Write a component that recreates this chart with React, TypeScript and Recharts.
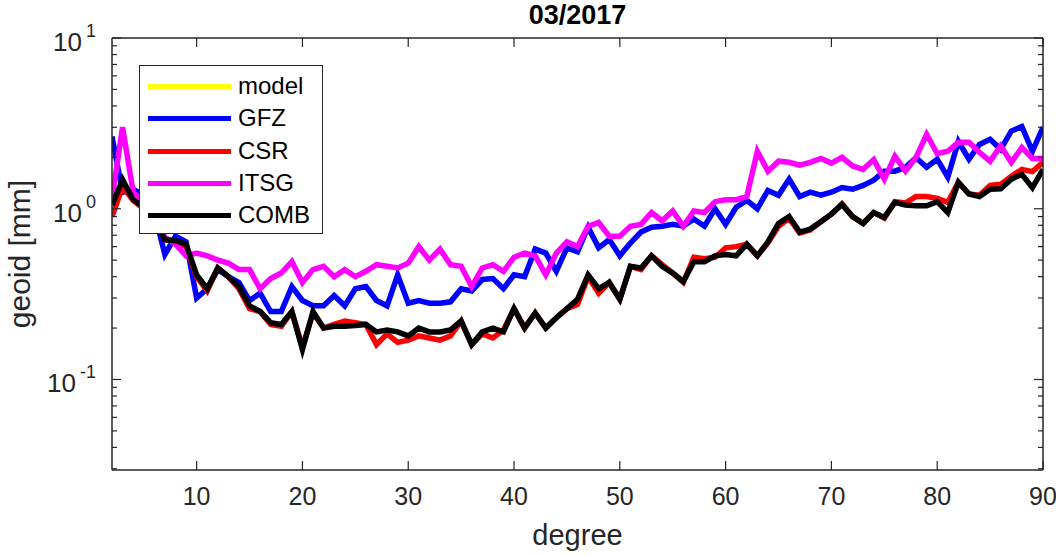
import React from 'react';
import { LineChart, Line, XAxis, YAxis, Legend } from 'recharts';

const degrees = [2, 3, 4, 5, 6, 7, 8, 9, 10, 11, 12, 13, 14, 15, 16, 17, 18, 19, 20, 21, 22, 23, 24, 25, 26, 27, 28, 29, 30,
  31, 32, 33, 34, 35, 36, 37, 38, 39, 40, 41, 42, 43, 44, 45, 46, 47, 48, 49, 50, 51, 52, 53, 54, 55, 56, 57, 58, 59, 60,
  61, 62, 63, 64, 65, 66, 67, 68, 69, 70, 71, 72, 73, 74, 75, 76, 77, 78, 79, 80, 81, 82, 83, 84, 85, 86, 87, 88, 89, 90];

const gfz = [2.65, 1.25, 1.3, 1.2, 0.95, 0.54, 0.69, 0.64, 0.30, 0.34, 0.44, 0.40, 0.37, 0.29, 0.32, 0.25, 0.25, 0.35, 0.29,
  0.27, 0.27, 0.31, 0.27, 0.34, 0.35, 0.29, 0.27, 0.41, 0.28, 0.29, 0.28, 0.28, 0.285, 0.34, 0.33, 0.385, 0.39, 0.34, 0.41,
  0.40, 0.58, 0.55, 0.43, 0.59, 0.56, 0.78, 0.59, 0.66, 0.53, 0.63, 0.73, 0.78, 0.79, 0.81, 0.79, 0.87, 0.79, 1.0, 0.81,
  1.02, 1.12, 1.0, 1.28, 1.2, 1.49, 1.18, 1.25, 1.2, 1.25, 1.33, 1.3, 1.37, 1.47, 1.66, 1.66, 1.75, 1.99, 1.75, 1.95,
  1.53, 2.48, 1.95, 2.38, 2.55, 2.23, 2.85, 3.03, 2.17, 3.0];

const csr = [0.90, 1.35, 1.12, 1.0, 0.85, 0.66, 0.64, 0.60, 0.40, 0.33, 0.45, 0.40, 0.34, 0.26, 0.25, 0.21, 0.205, 0.25, 0.155,
  0.245, 0.20, 0.21, 0.22, 0.215, 0.21, 0.16, 0.185, 0.165, 0.17, 0.18, 0.175, 0.17, 0.18, 0.22, 0.16, 0.185, 0.175, 0.195, 0.26,
  0.20, 0.245, 0.20, 0.23, 0.26, 0.275, 0.40, 0.32, 0.37, 0.295, 0.46, 0.44, 0.53, 0.47, 0.42, 0.37, 0.52, 0.51, 0.52, 0.59,
  0.60, 0.62, 0.53, 0.63, 0.79, 0.88, 0.72, 0.75, 0.84, 0.93, 1.07, 0.90, 0.82, 0.95, 0.88, 1.10, 1.08, 1.18, 1.18, 1.15,
  1.09, 1.43, 1.22, 1.20, 1.37, 1.39, 1.55, 1.70, 1.65, 1.87];

const itsg = [1.15, 3.0, 1.25, 1.1, 0.9, 0.68, 0.62, 0.53, 0.55, 0.53, 0.50, 0.48, 0.44, 0.44, 0.34, 0.39, 0.42, 0.49, 0.37,
  0.44, 0.46, 0.40, 0.44, 0.40, 0.43, 0.47, 0.46, 0.45, 0.48, 0.60, 0.50, 0.58, 0.47, 0.46, 0.35, 0.45, 0.47, 0.43, 0.52,
  0.55, 0.53, 0.41, 0.55, 0.64, 0.60, 0.79, 0.83, 0.69, 0.69, 0.79, 0.81, 0.95, 0.85, 0.97, 0.79, 0.97, 0.95, 1.1, 1.13,
  1.13, 1.18, 2.17, 1.66, 1.9, 1.87, 1.8, 1.87, 1.97, 1.85, 2.0, 1.78, 1.7, 1.94, 1.49, 2.03, 1.66, 2.0, 2.73, 2.1,
  2.17, 2.45, 2.45, 2.14, 1.9, 2.33, 1.87, 2.28, 1.97, 1.97];

const comb = [1.05, 1.48, 1.13, 1.02, 0.85, 0.66, 0.65, 0.62, 0.41, 0.34, 0.45, 0.40, 0.35, 0.27, 0.25, 0.215, 0.21, 0.25, 0.15,
  0.25, 0.20, 0.205, 0.205, 0.207, 0.21, 0.19, 0.195, 0.19, 0.18, 0.20, 0.19, 0.19, 0.195, 0.22, 0.16, 0.19, 0.20, 0.19, 0.26,
  0.20, 0.245, 0.20, 0.23, 0.26, 0.295, 0.41, 0.34, 0.37, 0.295, 0.46, 0.45, 0.53, 0.46, 0.42, 0.375, 0.49, 0.49, 0.53, 0.54,
  0.53, 0.62, 0.53, 0.64, 0.82, 0.90, 0.73, 0.76, 0.84, 0.93, 1.06, 0.90, 0.82, 0.95, 0.89, 1.09, 1.05, 1.04, 1.04, 1.10,
  0.95, 1.43, 1.22, 1.18, 1.30, 1.31, 1.49, 1.59, 1.33, 1.70];

const seriesNames = ['model', 'GFZ', 'CSR', 'ITSG', 'COMB'];
const seriesColors = ['#ffff00', '#0000ff', '#ff0000', '#ff00ff', '#000000'];

const xTicks = [10, 20, 30, 40, 50, 60, 70, 80, 90];
const yTicks = [0.03, 0.04, 0.05, 0.06, 0.07, 0.08, 0.09, 0.1, 0.2, 0.3, 0.4, 0.5, 0.6, 0.7, 0.8, 0.9,
  1, 2, 3, 4, 5, 6, 7, 8, 9, 10];
const yMajorExp: Record<string, string> = { '0.1': '-1', '1': '0', '10': '1' };

const xDomain = [2, 90];
const yDomain = [0.0295, 10];

const data = degrees.map((d, i) => ({
  degree: d,
  GFZ: gfz[i],
  CSR: csr[i],
  ITSG: itsg[i],
  COMB: comb[i],
}));

const AXIS = '#262626';
const FONT = '"Liberation Sans", Arial, Helvetica, sans-serif';

const XTickBottom = (props: any) => {
  const { x, y, payload } = props;
  return (
    <g>
      <line x1={x} x2={x} y1={y} y2={y - 9} stroke={AXIS} strokeWidth={1.2} />
      <text x={x} y={y + 35} textAnchor="middle" fontSize={25} fill={AXIS} fontFamily={FONT}>{payload.value}</text>
    </g>
  );
};

const XTickTop = (props: any) => {
  const { x, y } = props;
  return <line x1={x} x2={x} y1={y} y2={y + 9} stroke={AXIS} strokeWidth={1.2} />;
};

const YTickLeft = (props: any) => {
  const { x, y, payload } = props;
  const exp = yMajorExp[String(payload.value)];
  const major = exp !== undefined;
  return (
    <g>
      <line x1={x} x2={x + (major ? 9 : 5)} y1={y} y2={y} stroke={AXIS} strokeWidth={1.2} />
      {major && (
        <text x={x - 16} y={y + 13} textAnchor="end" fontSize={26} fill={AXIS} fontFamily={FONT}>
          10<tspan dx={4} dy={-14} fontSize={18}>{exp}</tspan>
        </text>
      )}
    </g>
  );
};

const YTickRight = (props: any) => {
  const { x, y, payload } = props;
  const major = yMajorExp[String(payload.value)] !== undefined;
  return <line x1={x} x2={x - (major ? 9 : 5)} y1={y} y2={y} stroke={AXIS} strokeWidth={1.2} />;
};

const LegendBox = () => (
  <div style={{
    width: 184, height: 169, background: '#fff', border: `1.5px solid ${AXIS}`,
    boxSizing: 'border-box', position: 'relative', fontFamily: FONT,
  }}>
    {seriesNames.map((name, i) => (
      <div key={name} style={{ position: 'absolute', left: 0, top: 5 + i * 32.3, height: 32, width: '100%' }}>
        <div style={{ position: 'absolute', left: 8, top: 13, width: 83, height: 5, background: seriesColors[i] }} />
        <div style={{ position: 'absolute', left: 98, top: 0, fontSize: 24, lineHeight: '30px', color: '#000' }}>{name}</div>
      </div>
    ))}
  </div>
);

export default function App() {
  return (
    <div style={{ position: 'absolute', left: 0, top: 0, width: 1056, height: 556, background: '#fff' }}>
      <LineChart width={1056} height={556} data={data} margin={{ top: 37, right: 12, bottom: 36, left: 32 }}>
        <XAxis
          dataKey="degree" type="number" domain={xDomain} ticks={xTicks} allowDataOverflow
          height={50} tickSize={0} tickMargin={0} tick={<XTickBottom />} interval={0}
          axisLine={{ stroke: AXIS, strokeWidth: 1.5 }} tickLine={false}
        />
        <XAxis
          xAxisId="top" orientation="top" dataKey="degree" type="number" domain={xDomain} ticks={xTicks}
          allowDataOverflow height={1} tickSize={0} tickMargin={0} tick={<XTickTop />} interval={0}
          axisLine={{ stroke: AXIS, strokeWidth: 1.5 }} tickLine={false}
        />
        <YAxis
          scale="log" type="number" domain={yDomain} ticks={yTicks} allowDataOverflow width={80}
          tickSize={0} tickMargin={0} tick={<YTickLeft />} interval={0}
          axisLine={{ stroke: AXIS, strokeWidth: 1.5 }} tickLine={false}
        />
        <YAxis
          yAxisId="right" orientation="right" scale="log" type="number" domain={yDomain} ticks={yTicks}
          allowDataOverflow width={1} tickSize={0} tickMargin={0} tick={<YTickRight />} interval={0}
          axisLine={{ stroke: AXIS, strokeWidth: 1.5 }} tickLine={false}
        />
        {seriesNames.map((name, i) => (
          <Line
            key={name} dataKey={name} name={name} type="linear" stroke={seriesColors[i]} strokeWidth={5.5}
            dot={false} activeDot={false} isAnimationActive={false} connectNulls={false}
          />
        ))}
        <Legend
          layout="horizontal" verticalAlign="middle" align="center" content={<LegendBox />}
          wrapperStyle={{ position: 'absolute', left: 139, top: 65, width: 184, height: 169 }}
        />
      </LineChart>
      <div style={{
        position: 'absolute', left: 112, width: 931, top: 0, textAlign: 'center',
        fontFamily: FONT, fontWeight: 'bold', fontSize: 27, lineHeight: '30px', color: '#000',
      }}>03/2017</div>
      <div style={{
        position: 'absolute', left: 112, width: 931, top: 518, textAlign: 'center',
        fontFamily: FONT, fontSize: 29, lineHeight: '34px', color: AXIS,
      }}>degree</div>
      <div style={{
        position: 'absolute', left: 20 - 100, top: 254 - 17, width: 200, height: 34, textAlign: 'center',
        fontFamily: FONT, fontSize: 30, lineHeight: '34px', color: AXIS, transform: 'rotate(-90deg)',
        transformOrigin: '100px 17px',
      }}>geoid [mm]</div>
    </div>
  );
}
